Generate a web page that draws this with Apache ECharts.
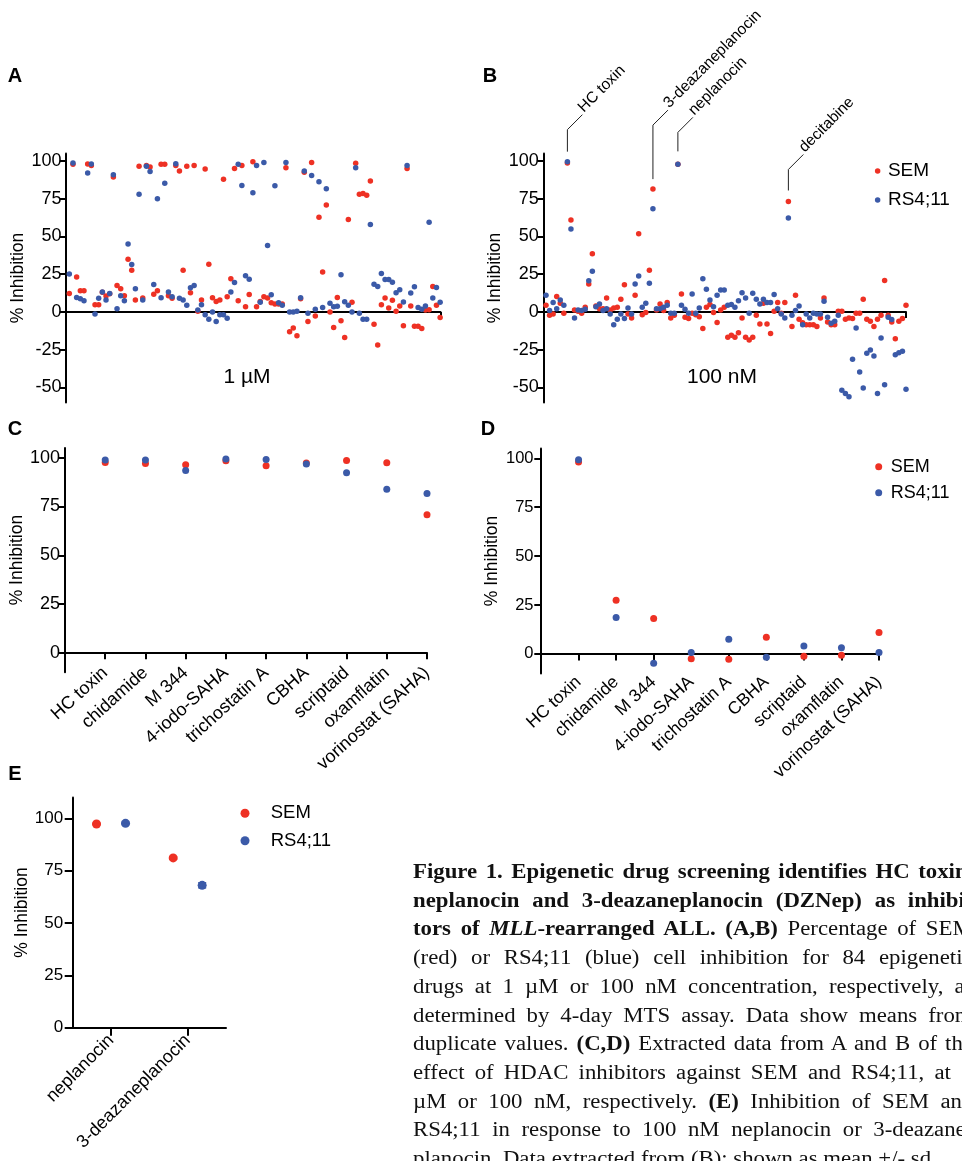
<!DOCTYPE html>
<html>
<head>
<meta charset="utf-8">
<script src="https://cdn.jsdelivr.net/npm/echarts@6/dist/echarts.min.js"></script>
<style>
  html, body { margin: 0; padding: 0; background: #fff; overflow: hidden; }
  #chart { position: absolute; left: 0; top: 0; width: 962px; height: 1161px; }
  #caption { position: absolute; left: 413px; top: 857px;
             font-family: "Liberation Serif", "Times New Roman", serif; font-size: 20px;
             line-height: 28.7px; color: #111; transform: scaleX(1.14); transform-origin: 0 0; }
  #caption div { white-space: nowrap; }
  #caption span.line { display: inline-block; }
</style>
</head>
<body>
<div id="chart"></div>
<div id="caption"></div>
<script>
// ---------- Screen of the epigenetic library (one value per drug, in plate order) ----------
const screenSEM_1uM = [
  12.3, 97.8, 23.2, 14, 14, 98, 97, 4.8, 4.8, 13,
  10.5, 12, 89.5, 17.5, 15.4, 10.7, 35, 27.6, 8, 96.5,
  9.2, 97, 96, 11.8, 14, 97.8, 97.8, 10.7, 9, 97,
  93.4, 27.6, 96.5, 12.7, 97, 0.4, 8, 94.7, 31.6, 9.4,
  7, 7.9, 88, 10, 22, 95, 7.5, 97, 3.5, 11.6,
  99.6, 3.5, 7, 10, 9.2, 6.1, 5.3, 5.3, 5.3, 95.6,
  -13.2, -10.7, -15.8, 8.8, 92.5, -6.4, 99, -2.6, 62.7, 26.5,
  70.8, 0, -10.3, 9.6, -5.9, -16.9, 61.2, 6.4, 98.5, 78,
  78.5, 77.4, 86.8, -8.1, -21.9, 4.8, 9.2, 2.6, 7.7, 0.4,
  3.9, -9.2, 95, 3.9, -9.4, -9.4, -11, 1.3, 1.5, 16.9,
  4.4, -3.7
];
const screenRS_1uM = [
  25.2, 98.7, 9.6, 8.8, 7.5, 92, 98, -1.3, 9, 13.2,
  7.9, 12.3, 91, 2.2, 10.7, 7.5, 45, 31.4, 15.4, 78,
  8, 96.5, 93, 18.2, 75, 9.4, 85.3, 13.2, 10, 98.2,
  9, 8, 4.4, 16, 17.5, 1.3, 4.8, -1.8, -4.8, 0,
  -6.4, -1.8, -1.8, -4.2, 13.2, 19.5, 97.8, 83.8, 24, 21.7,
  79, 97, 6.4, 99, 44, 11.4, 83.6, 6.1, 4.4, 99,
  0, 0, 0.4, 9.4, 93.4, -0.9, 90.4, 1.8, 86.2, 3,
  81.6, 5.7, 3.5, 3.7, 24.6, 6.8, 4.4, 0, 95.6, -0.9,
  -4.8, -4.8, 57.9, 18.4, 16.9, 25.4, 21.5, 21.5, 19.7, 12.7,
  14.7, 6.6, 97, 12.5, 16.7, 3, 1.8, 3.9, 59.4, 9.3,
  16.2, 6.4
];
const screenSEM_100nM = [
  4.4, -2.2, -1.3, 10.2, 5.8, -0.9, 98.7, 61, 1.3, 0.4,
  -0.9, 3.1, 18.6, 38.5, 4, 2.2, 2.2, 9.3, 1.3, 2.7,
  3.1, 8.4, 18.1, -1.3, -4, 11, 51.8, -1.8, -0.4, 27.7,
  81.4, 1.3, 5.3, 0.9, 6.2, -4, -2.2, 97.8, 11.9, -3.5,
  -4.4, -0.9, -1.8, -3.1, -11, 3.1, 4.9, -0.4, -7, 1.3,
  3.1, -16.8, -15.5, -16.8, -13.7, -4, -16.8, -18.6, -16.8, -2.2,
  -8, 5.8, -8, -14.2, 0.4, 6.2, -0.9, 6.2, 73.2, -9.7,
  11, -4.9, -7.1, -8.4, -8.4, -8.4, -9.7, -4, 9.3, -6.6,
  -8.4, -8.4, 0.4, 0.4, -4.9, -4, -4.4, -0.9, -0.9, 8.4,
  -4.9, -6.2, -9.7, -4.9, -2.2, 20.8, -2.2, -6.6, -17.7, -6.2,
  -4.4, 4.4
];
const screenRS_100nM = [
  11, 0.9, 6.2, 2.2, 8, 4.4, 99.6, 55, -4, 1.3,
  0.9, 1.8, 20.6, 27, 3.5, 5.3, 0.9, 2.2, -1.3, -8.4,
  -4.9, -1.3, -4.4, 2.7, -1.3, 18.6, 23.9, 3.1, 5.8, 19,
  68.4, 2.2, 2.2, 3.1, 4.4, -0.9, -0.9, 97.8, 4.4, 1.8,
  -0.9, 11.9, -0.9, 2.7, 22, 15, 8, 3.5, 11, 14.6,
  14.6, 4.4, 4.9, 3.1, 7.5, 12.8, 9.3, -0.9, 12.4, 8.4,
  5.3, 8.4, 6.2, 6.2, 11.5, 2.2, -1.3, -4, 62.2, -2.2,
  0.9, 4, -8.4, -1.3, -4, -0.9, -1.3, -1.3, 7.1, -3.5,
  -7.5, -6.2, -2.2, -51.8, -54, -56.2, -31.4, -10.6, -39.8, -50.4,
  -27.4, -25.2, -29.2, -54, -17.3, -48.2, -3.5, -5, -28.3, -27,
  -26.1, -51.3
];
// Hits called out on the 100 nM screen (index into the arrays above)
const annotatedHits = [
  { name: 'HC toxin', index: 6 },
  { name: '3-deazaneplanocin', index: 30 },
  { name: 'neplanocin', index: 37 },
  { name: 'decitabine', index: 68 }
];

// ---------- HDAC inhibitors ----------
const hdacDrugs = ['HC toxin', 'chidamide', 'M 344', '4-iodo-SAHA', 'trichostatin A',
                   'CBHA', 'scriptaid', 'oxamflatin', 'vorinostat (SAHA)'];
const hdacSEM_1uM   = [97.6, 97.1, 96.4, 98.5, 95.9, 97.3, 98.6, 97.4, 70.8];
const hdacRS_1uM    = [98.8, 98.8, 93.5, 99.3, 99.1, 96.8, 92.3, 83.8, 81.7];
const hdacSEM_100nM = [98.1, 27.4, 18.1, -2.4, -2.7, 8.5, -1.2, -0.7, 10.9];
const hdacRS_100nM  = [99.3, 18.6, -4.8, 0.7, 7.5, -1.7, 4.1, 3.1, 0.7];

// ---------- Neplanocins at 100 nM (mean, sd) ----------
const nepDrugs = ['neplanocin', '3-deazaneplanocin'];
const nepSEM_mean = [97.3, 81.1];
const nepSEM_sd   = [0.3, 0.6];
const nepRS_mean  = [97.6, 68.0];
const nepRS_sd    = [0.6, 1.2];

// ---------- Tick labels ----------
const screenTicks = [-50, -25, 0, 25, 50, 75, 100];
const hdacTicks = [0, 25, 50, 75, 100];

// ---------- Styling ----------
const FONT = '"Liberation Sans", Arial, Helvetica, sans-serif';
const RED = '#EE3124';
const BLUE = '#3B5AA8';
const INK = '#000';
// leader lines for the called-out hits: gap above the dot and rise of the vertical part (px)
const leaderStyle = [
  { gap: 10, rise: 22 },
  { gap: 10, rise: 54 },
  { gap: 13, rise: 19 },
  { gap: 11, rise: 21 }
];

const chart = echarts.init(document.getElementById('chart'), null, { renderer: 'canvas' });

function yAxisCfg(gridIndex, min, max, ticks, nameGap, fontSize, tickLen, labelMargin) {
  return {
    type: 'value', gridIndex, min, max,
    name: '% Inhibition', nameLocation: 'middle', nameGap,
    nameTextStyle: { fontSize: 17.5, fontFamily: FONT, color: INK },
    axisLine: { show: true, onZero: false, lineStyle: { color: INK, width: 2 } },
    axisTick: { show: true, inside: false, length: tickLen, customValues: ticks,
                lineStyle: { color: INK, width: 2 } },
    axisLabel: { customValues: ticks, fontSize, fontFamily: FONT, color: INK, margin: labelMargin },
    splitLine: { show: false }
  };
}

function screenXAxis(gridIndex, min, max) {
  return {
    type: 'value', gridIndex, min, max,
    axisLine: { show: true, onZero: true, lineStyle: { color: INK, width: 2 } },
    axisTick: { show: true, length: 6, customValues: [max], lineStyle: { color: INK, width: 2 } },
    axisLabel: { show: false },
    splitLine: { show: false }
  };
}

function categoryXAxis(gridIndex, names, fontSize, margin, boundaryGap, rotate) {
  return {
    type: 'category', gridIndex, data: names, boundaryGap,
    axisLine: { show: true, onZero: true, lineStyle: { color: INK, width: 2 } },
    axisTick: { show: true, interval: 0, alignWithLabel: true, length: boundaryGap ? 8 : 6.5,
                lineStyle: { color: INK, width: 2 } },
    axisLabel: { interval: 0, rotate, fontSize, fontFamily: FONT, color: INK, margin },
    splitLine: { show: false }
  };
}

function dots(name, color, xi, data, size, extra) {
  return Object.assign({
    type: 'scatter', name, xAxisIndex: xi, yAxisIndex: xi,
    symbol: 'circle', symbolSize: size,
    itemStyle: { color, opacity: 1 },
    emphasis: { disabled: true },
    data
  }, extra || {});
}

function errorBars(name, means, sds, color, dx) {
  return {
    type: 'custom', name, xAxisIndex: 4, yAxisIndex: 4, silent: true, z: 3,
    data: means.map((m, i) => [i, m, sds[i]]),
    renderItem(params, api) {
      const c = api.value(0), m = api.value(1), s = api.value(2);
      const hi = api.coord([c, m + s]);
      const lo = api.coord([c, m - s]);
      const x = hi[0] + dx;
      const st = { stroke: color, lineWidth: 1.5 };
      return {
        type: 'group', children: [
          { type: 'line', shape: { x1: x, y1: hi[1], x2: x, y2: lo[1] }, style: st },
          { type: 'line', shape: { x1: x - 4, y1: hi[1], x2: x + 4, y2: hi[1] }, style: st },
          { type: 'line', shape: { x1: x - 4, y1: lo[1], x2: x + 4, y2: lo[1] }, style: st }
        ]
      };
    }
  };
}

const hcCats = [''].concat(hdacDrugs);
const idx = arr => arr.map((v, i) => [i, v]);
const named = (names, arr) => names.map((n, i) => [n, arr[i]]);

const panelText = (text, x, y) => ({
  type: 'text', x, y,
  style: { text, font: 'bold 20px ' + FONT, fill: INK, align: 'center', verticalAlign: 'middle' }
});
const concText = (text, x, y) => ({
  type: 'text', x, y,
  style: { text, font: '21px ' + FONT, fill: INK, align: 'center', verticalAlign: 'middle' }
});

const option = {
  animation: false,
  backgroundColor: '#fff',
  grid: [
    { left: 66, top: 153.5, width: 374.5, height: 249 },     // A
    { left: 543.3, top: 153.5, width: 362.7, height: 249 },  // B
    { left: 65, top: 448, width: 362, height: 224.25 },      // C
    { left: 541, top: 448.5, width: 338, height: 225 },      // D
    { left: 72.7, top: 797.4, width: 153.3, height: 230.3 }  // E
  ],
  xAxis: [
    screenXAxis(0, -0.9, 101.1),
    screenXAxis(1, -0.76, 101),
    categoryXAxis(2, hcCats, 18, -2, false, 42),
    categoryXAxis(3, hcCats, 17.5, 6, false, 43),
    categoryXAxis(4, nepDrugs, 18, 10, true, 45)
  ],
  yAxis: [
    yAxisCfg(0, -60, 105, screenTicks, 39, 18, 6, 4.5),
    yAxisCfg(1, -60, 105, screenTicks, 39, 18, 6, 4.5),
    yAxisCfg(2, -10, 105, hdacTicks, 36, 18, 6.7, 5),
    yAxisCfg(3, -10, 105, hdacTicks, 40, 16.5, 6.7, 7.5),
    yAxisCfg(4, 0, 110, hdacTicks, 38, 17, 8, 9.5)
  ],
  legend: [
    { orient: 'vertical', left: 874.9, top: 161, padding: 0, itemWidth: 10.6, itemHeight: 5.5,
      itemGap: 9, icon: 'circle', data: ['SEM', 'RS4;11'],
      textStyle: { fontSize: 19, lineHeight: 20, fontFamily: FONT, color: INK } },
    { orient: 'vertical', left: 875.2, top: 456.7, padding: 0, itemWidth: 14, itemHeight: 7,
      itemGap: 6, icon: 'circle', data: ['SEM', 'RS4;11'],
      textStyle: { fontSize: 18, lineHeight: 20, fontFamily: FONT, color: INK } },
    { orient: 'vertical', left: 240.5, top: 803.3, padding: 0, itemWidth: 41.4, itemHeight: 9,
      itemGap: 7.4, icon: 'circle', data: ['SEM', 'RS4;11'],
      textStyle: { fontSize: 18.5, lineHeight: 20, fontFamily: FONT, color: INK } }
  ],
  graphic: [
    panelText('A', 15, 76), panelText('B', 490, 76),
    panelText('C', 15, 429.5), panelText('D', 488, 429.5),
    panelText('E', 15, 774),
    concText('1 \u00B5M', 247, 377),
    concText('100 nM', 722, 377)
  ],
  series: [
    // A: 1 µM screen
    dots('SEM', RED, 0, idx(screenSEM_1uM), 5.5),
    dots('RS4;11', BLUE, 0, idx(screenRS_1uM), 5.5),
    // B: 100 nM screen
    dots('SEM', RED, 1, idx(screenSEM_100nM), 5.5),
    dots('RS4;11', BLUE, 1, idx(screenRS_100nM), 5.5),
    {
      type: 'custom', name: 'hits', xAxisIndex: 1, yAxisIndex: 1, silent: true, z: 5, clip: false,
      data: annotatedHits.map(h => [h.index, Math.max(screenSEM_100nM[h.index], screenRS_100nM[h.index])]),
      renderItem(params, api) {
        const i = params.dataIndex;
        const p = api.coord([api.value(0), api.value(1)]);
        const st = leaderStyle[i];
        const x = p[0], y0 = p[1] - st.gap, y1 = y0 - st.rise;
        const x2 = x + 15, y2 = y1 - 15;
        return {
          type: 'group', children: [
            { type: 'polyline', shape: { points: [[x, y0], [x, y1], [x2, y2]] },
              style: { stroke: '#222', lineWidth: 1, fill: null } },
            { type: 'text', x: x2 + 4, y: y2 + 1, rotation: Math.PI / 4,
              style: { text: annotatedHits[i].name, font: '15.5px ' + FONT, fill: INK,
                       align: 'left', verticalAlign: 'bottom' } }
          ]
        };
      }
    },
    // C: HDAC inhibitors, 1 µM
    dots('SEM', RED, 2, named(hdacDrugs, hdacSEM_1uM), 7),
    dots('RS4;11', BLUE, 2, named(hdacDrugs, hdacRS_1uM), 7),
    // D: HDAC inhibitors, 100 nM
    dots('SEM', RED, 3, named(hdacDrugs, hdacSEM_100nM), 7),
    dots('RS4;11', BLUE, 3, named(hdacDrugs, hdacRS_100nM), 7),
    // E: neplanocins, mean ± sd
    dots('SEM', RED, 4, named(nepDrugs, nepSEM_mean), 9, { symbolOffset: [-14.5, 0] }),
    dots('RS4;11', BLUE, 4, named(nepDrugs, nepRS_mean), 9, { symbolOffset: [14.5, 0] }),
    errorBars('SEM sd', nepSEM_mean, nepSEM_sd, RED, -14.5),
    errorBars('RS4;11 sd', nepRS_mean, nepRS_sd, BLUE, 14.5)
  ]
};
chart.setOption(option);

// ---------- Figure legend text (justified line by line) ----------
const captionLines = [
  [['b', 'Figure 1. Epigenetic drug screening identifies HC toxin,']],
  [['b', 'neplanocin and 3-deazaneplanocin (DZNep) as inhibi-']],
  [['b', 'tors of '], ['bi', 'MLL'], ['b', '-rearranged ALL. (A,B)'], ['r', ' Percentage of SEM']],
  [['r', '(red) or RS4;11 (blue) cell inhibition for 84 epigenetic']],
  [['r', 'drugs at 1 \u00B5M or 100 nM concentration, respectively, as']],
  [['r', 'determined by 4-day MTS assay. Data show means from']],
  [['r', 'duplicate values. '], ['b', '(C,D)'], ['r', ' Extracted data from A and B of the']],
  [['r', 'effect of HDAC inhibitors against SEM and RS4;11, at 1']],
  [['r', '\u00B5M or 100 nM, respectively. '], ['b', '(E)'], ['r', ' Inhibition of SEM and']],
  [['r', 'RS4;11 in response to 100 nM neplanocin or 3-deazane-']],
  [['r', 'planocin. Data extracted from (B); shown as mean +/- sd.']]
];
const cap = document.getElementById('caption');
const colWidth = 560 / 1.14;   // column width before the horizontal scale
captionLines.forEach((parts, li) => {
  const row = document.createElement('div');
  const line = document.createElement('span');
  line.className = 'line';
  parts.forEach(([kind, text]) => {
    const s = document.createElement('span');
    s.textContent = text;
    if (kind === 'b' || kind === 'bi') s.style.fontWeight = 'bold';
    if (kind === 'bi') s.style.fontStyle = 'italic';
    line.appendChild(s);
  });
  row.appendChild(line);
  cap.appendChild(row);
  if (li < captionLines.length - 1) {
    const natural = line.offsetWidth;
    const spaces = parts.map(p => p[1]).join('').split(' ').length - 1;
    if (spaces > 0) line.style.wordSpacing = ((colWidth - natural) / spaces) + 'px';
  }
});
</script>
</body>
</html>
